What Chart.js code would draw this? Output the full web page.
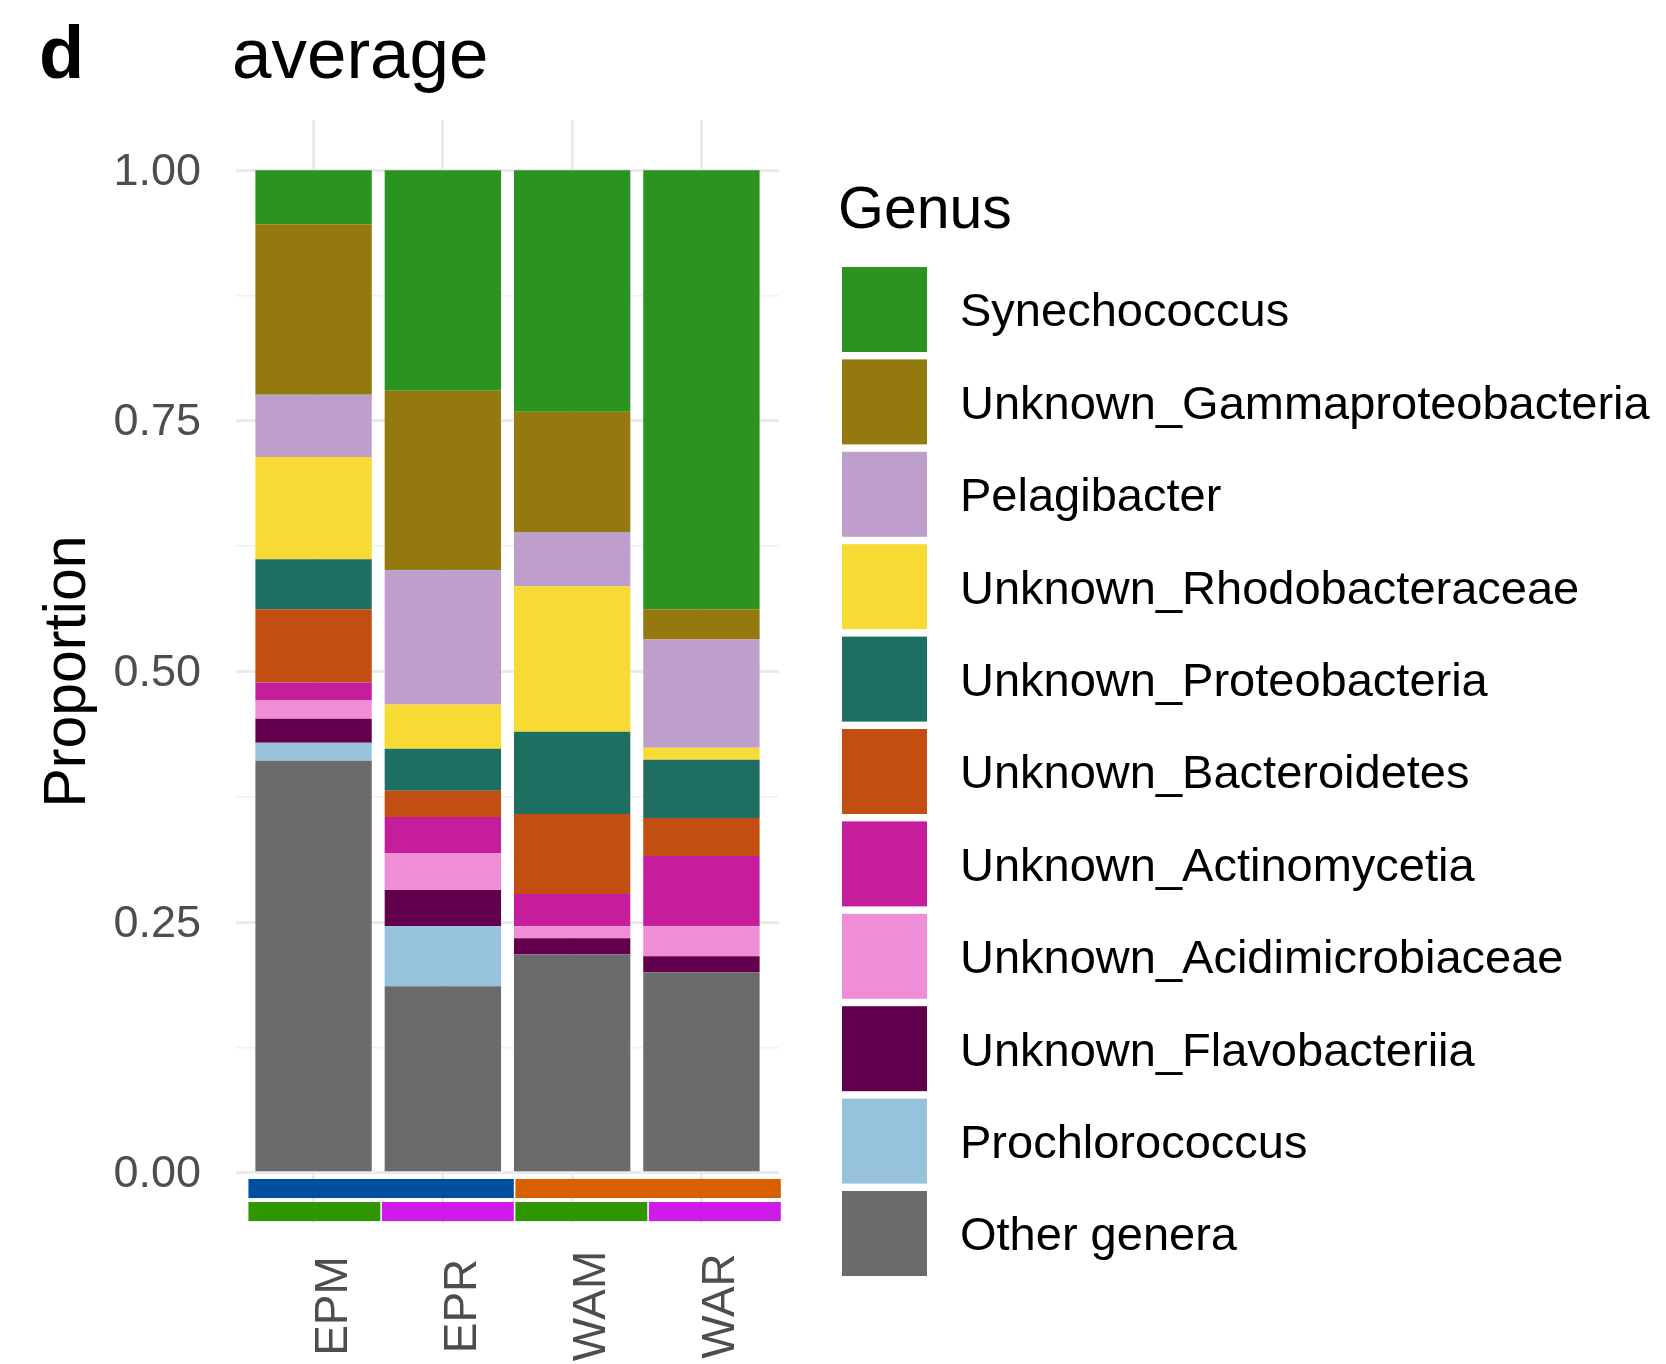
<!DOCTYPE html>
<html>
<head>
<meta charset="utf-8">
<title>average</title>
<script src="https://cdn.jsdelivr.net/npm/chart.js@4/dist/chart.umd.min.js"></script>
<style>
  html, body { margin: 0; padding: 0; background: #ffffff; }
  canvas { display: block; }
</style>
</head>
<body>
<canvas id="chart" width="1666" height="1364"></canvas>
<script>
// ---- data ---------------------------------------------------------------
const categories = ['EPM', 'EPR', 'WAM', 'WAR'];

// Genus names in legend order (top of the stack first)
const genera = [
  'Synechococcus',
  'Unknown_Gammaproteobacteria',
  'Pelagibacter',
  'Unknown_Rhodobacteraceae',
  'Unknown_Proteobacteria',
  'Unknown_Bacteroidetes',
  'Unknown_Actinomycetia',
  'Unknown_Acidimicrobiaceae',
  'Unknown_Flavobacteriia',
  'Prochlorococcus',
  'Other genera'
];

const genusColors = [
  '#2B9421', '#93790E', '#BE9FCB', '#F8DA34', '#1E6F62', '#C34E12',
  '#C51D9B', '#EF8ED6', '#62004E', '#96C3DB', '#6B6B6B'
];

// Mean proportions per group (EPM, EPR, WAM, WAR)
const synechococcus      = [0.054, 0.220, 0.241, 0.438];
const gammaproteobact    = [0.170, 0.179, 0.120, 0.030];
const pelagibacter       = [0.062, 0.134, 0.054, 0.108];
const rhodobacteraceae   = [0.102, 0.044, 0.145, 0.012];
const proteobacteria     = [0.050, 0.042, 0.082, 0.058];
const bacteroidetes      = [0.073, 0.026, 0.080, 0.038];
const actinomycetia      = [0.018, 0.036, 0.032, 0.070];
const acidimicrobiaceae  = [0.018, 0.037, 0.012, 0.030];
const flavobacteriia     = [0.024, 0.036, 0.016, 0.016];
const prochlorococcus    = [0.018, 0.060, 0.000, 0.000];
const otherGenera        = [0.411, 0.186, 0.218, 0.200];

const genusValues = [
  synechococcus, gammaproteobact, pelagibacter, rhodobacteraceae,
  proteobacteria, bacteroidetes, actinomycetia, acidimicrobiaceae,
  flavobacteriia, prochlorococcus, otherGenera
];

// Group annotation strips under the bars
const regionGroups = ['EP', 'EP', 'WA', 'WA'];
const regionColors = { EP: '#0050A0', WA: '#D75F00' };
const layerGroups  = ['M', 'R', 'M', 'R'];
const layerColors  = { M: '#2F9600', R: '#CF1BE9' };

// Axis ticks
const yMajorTicks  = [0, 0.25, 0.5, 0.75, 1];
const yTickLabels  = ['0.00', '0.25', '0.50', '0.75', '1.00'];
const yMinorTicks  = [0.125, 0.375, 0.625, 0.875];

const panelTag   = 'd';
const plotTitle  = 'average';
const yAxisTitle = 'Proportion';
const legendTitle = 'Genus';

// ---- drawing -------------------------------------------------------------
const FONT = '"Liberation Sans", Arial, Helvetica, sans-serif';

// stack from the bottom: "Other genera" first
const datasets = genera.map((name, g) => ({
  label: name,
  data: categories.map((c, i) => ({ x: i, y: genusValues[g][i] })),
  backgroundColor: genusColors[g],
  borderWidth: 0,
  barPercentage: 0.9,
  categoryPercentage: 1.0
})).reverse();

function drawStripRow(ctx, xs, ys, groups, colors, v0, v1) {
  const spanL = -0.51, spanR = 3.62;
  const cell = (spanR - spanL) / groups.length;
  const top = ys.getPixelForValue(v0), bot = ys.getPixelForValue(v1);
  let i = 0;
  while (i < groups.length) {
    let j = i;
    while (j + 1 < groups.length && groups[j + 1] === groups[i]) j++;
    const l = xs.getPixelForValue(spanL + i * cell);
    const r = xs.getPixelForValue(spanL + (j + 1) * cell);
    ctx.fillStyle = colors[groups[i]];
    ctx.fillRect(l + 0.8, top, r - l - 1.6, bot - top);
    i = j + 1;
  }
}

const decorations = {
  id: 'decorations',
  afterDraw(chart) {
    const { ctx } = chart;
    const xs = chart.scales.x, ys = chart.scales.y;
    ctx.save();

    // tag and title
    ctx.fillStyle = '#000000';
    ctx.textAlign = 'left';
    ctx.textBaseline = 'alphabetic';
    ctx.font = 'bold 74px ' + FONT;
    ctx.fillText(panelTag, 39, 78);
    ctx.font = '71px ' + FONT;
    ctx.fillText(plotTitle, 232, 78);

    // group strips
    drawStripRow(ctx, xs, ys, regionGroups, regionColors, -0.0061, -0.0251);
    drawStripRow(ctx, xs, ys, layerGroups, layerColors, -0.0291, -0.0481);

    // category labels, rotated
    ctx.fillStyle = '#4D4D4D';
    ctx.font = '46px ' + FONT;
    ctx.textAlign = 'center';
    categories.forEach((c, i) => {
      ctx.save();
      ctx.translate(xs.getPixelForValue(i) + 33, 1306);
      ctx.rotate(-Math.PI / 2);
      ctx.fillText(c, 0, 0);
      ctx.restore();
    });

    // legend
    ctx.textAlign = 'left';
    ctx.fillStyle = '#000000';
    ctx.font = '59px ' + FONT;
    ctx.fillText(legendTitle, 838, 228);
    const keyX = 842, keyW = 85, keyH = 85, firstTop = 267, step = 92.4;
    ctx.font = '47px ' + FONT;
    const items = chart.data.datasets.slice().reverse();
    items.forEach((ds, k) => {
      const top = firstTop + k * step;
      ctx.fillStyle = ds.backgroundColor;
      ctx.fillRect(keyX, top, keyW, keyH);
      ctx.fillStyle = '#000000';
      ctx.fillText(ds.label, 960, top + keyH / 2 + 16.8);
    });

    ctx.restore();
  }
};

const isMajor = v => yMajorTicks.some(m => Math.abs(m - v) < 1e-9);

new Chart(document.getElementById('chart'), {
  type: 'bar',
  data: { datasets },
  plugins: [decorations],
  options: {
    responsive: false,
    animation: false,
    devicePixelRatio: 1,
    layout: { padding: { left: 0, top: 120, right: 887, bottom: 141 } },
    plugins: {
      legend: { display: false },
      tooltip: { enabled: false },
      title: { display: false }
    },
    scales: {
      x: {
        type: 'linear',
        min: -0.6,
        max: 3.6,
        stacked: true,
        offset: false,
        border: { display: false },
        grid: { color: '#EBEBEB', lineWidth: 3, drawTicks: false, offset: false },
        ticks: { display: false },
        afterBuildTicks: s => { s.ticks = categories.map((c, i) => ({ value: i })); },
        afterFit: s => { s.height = 0; }
      },
      y: {
        type: 'linear',
        min: -0.05,
        max: 1.05,
        stacked: true,
        border: { display: false },
        grid: {
          drawTicks: false,
          color: ctx => isMajor(ctx.tick.value) ? '#EBEBEB' : '#F1F1F1',
          lineWidth: ctx => isMajor(ctx.tick.value) ? 3 : 1.6
        },
        afterBuildTicks: s => {
          s.ticks = yMajorTicks.concat(yMinorTicks)
            .sort((a, b) => a - b)
            .map(v => ({ value: v }));
        },
        ticks: {
          padding: 35,
          labelOffset: 2,
          color: '#4D4D4D',
          font: { family: FONT, size: 45 },
          autoSkip: false,
          callback: v => {
            const k = yMajorTicks.findIndex(m => Math.abs(m - v) < 1e-9);
            return k >= 0 ? yTickLabels[k] : '';
          }
        },
        title: {
          display: true,
          text: yAxisTitle,
          color: '#000000',
          font: { family: FONT, size: 59 },
          padding: { top: 33, bottom: 0 }
        },
        afterFit: s => { s.width = 236; }
      }
    }
  }
});
</script>
</body>
</html>
